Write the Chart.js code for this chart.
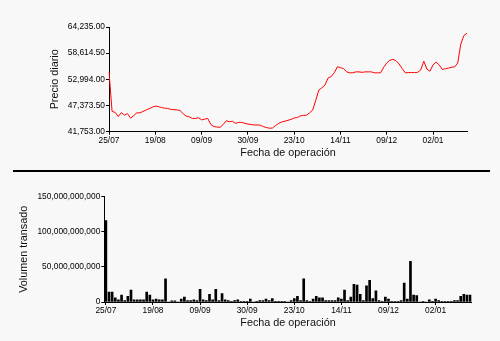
<!DOCTYPE html>
<html>
<head>
<meta charset="utf-8">
<script src="https://cdn.jsdelivr.net/npm/chart.js@4"></script>
<style>
  body { margin: 0; background: #f8f8f8; }
  #wrap { position: relative; width: 500px; height: 341px; background: #f8f8f8; }
  #priceChart { position: absolute; left: 0; top: 0; }
  #volChart { position: absolute; left: 0; top: 170px; }
  #sep { position: absolute; left: 13px; top: 170px; width: 477px; height: 2px; background: #000; }
</style>
</head>
<body>
<div id="wrap">
  <canvas id="priceChart" width="500" height="170"></canvas>
  <div id="sep"></div>
  <canvas id="volChart" width="500" height="171"></canvas>
</div>
<script>
// tick labels shown every 15 trading days
const dateTicks = ['25/07', '19/08', '09/09', '30/09', '23/10', '14/11', '09/12', '02/01'];
const tickEvery = 15;

const priceTicks = [41753, 47373.5, 52994, 58614.5, 64235];
const volumeTicks = [0, 50000000000, 100000000000, 150000000000];

// daily price
const prices = [
  54600, 46100, 45900, 45000, 45850, 45300, 45650, 44650, 45200, 45800,
  45800, 46100, 46400, 46700, 47000, 47250, 47150, 46950, 46800, 46750,
  46550, 46500, 46450, 46300, 45650, 45100, 44950, 44600, 44600, 44750,
  44300, 44450, 44600, 43300, 42850, 42750, 42700, 43300, 44100, 43900,
  44000, 43550, 43750, 43750, 43550, 43400, 43300, 43200, 43200, 43150,
  42850, 42650, 42500, 42550, 43100, 43550, 43850, 44000, 44200, 44400,
  44700, 44800, 45150, 45250, 45300, 45800, 46400, 48500, 50700, 51200,
  51800, 53300, 53600, 54400, 55700, 55500, 55300, 54600, 54400, 54400,
  54600, 54600, 54500, 54600, 54600, 54600, 54400, 54400, 54400, 55600,
  56500, 57100, 57300, 57000, 56300, 55300, 54400, 54450, 54450, 54450,
  54500, 55000, 56900, 55200, 54750, 56100, 56700, 56100, 55100, 55300,
  55400, 55600, 55650, 56500, 60600, 62400, 62900
];

// traded volume, in billions
const volumesB = [
  116, 14, 14, 6, 3, 10, 2, 8, 17, 3,
  3, 3, 3, 14, 10, 3, 4, 3, 3, 33,
  0, 1.5, 1.5, 0, 4, 7, 2, 2, 3, 2,
  18, 3, 2, 11, 3, 18, 2, 12, 3, 2,
  1, 2, 3, 1, 1, 1, 4, 0, 1, 2,
  2, 4, 2, 5, 1, 1, 1, 1, 0, 2,
  5, 8, 2, 33, 2, 1, 4, 8, 6, 6,
  2, 2, 2, 2, 6, 4, 17, 2, 7, 25,
  24, 11, 2, 23, 31, 5, 16, 2, 1, 7,
  4, 1, 1, 1, 2, 27, 4, 58, 10, 9,
  0, 1, 0, 3, 1, 4, 2, 1, 1, 1,
  1, 2, 2, 8, 11, 10, 10
];

const labels = prices.map((_, i) => i);
const fmt2 = v => v.toLocaleString('en-US', {minimumFractionDigits: 2, maximumFractionDigits: 2});
const fmt0 = v => v.toLocaleString('en-US');

const tickFont = {family: 'Liberation Sans, Arial, sans-serif', size: 8.4};
const titleFont = {family: 'Liberation Sans, Arial, sans-serif', size: 10.8};

function xAxis(height, titlePad, offset) {
  return {
    offset: offset,
    border: {display: true, color: '#000', width: 1},
    grid: {drawOnChartArea: false, drawTicks: true, tickLength: 3, color: '#000', offset: false},
    ticks: {
      autoSkip: false, maxRotation: 0, padding: 1, color: '#000', font: tickFont,
      callback: (v, i) => i % tickEvery === 0 ? dateTicks[i / tickEvery] : null
    },
    title: {display: true, text: 'Fecha de operación', color: '#111', font: titleFont,
            padding: {top: 0, bottom: titlePad}},
    afterFit: s => { s.height = height; }
  };
}

function yAxis(width, titlePad, text, tickVals, fmt) {
  return {
    min: tickVals[0],
    max: tickVals[tickVals.length - 1],
    border: {display: true, color: '#000', width: 1},
    grid: {drawOnChartArea: false, drawTicks: true, tickLength: 3, color: '#000'},
    ticks: {padding: 1, color: '#000', font: tickFont, callback: v => fmt(v)},
    afterBuildTicks: s => { s.ticks = tickVals.map(v => ({value: v})); },
    title: {display: true, text: text, color: '#111', font: titleFont,
            padding: {top: titlePad, bottom: 0}},
    afterFit: s => { s.width = width; }
  };
}

new Chart(document.getElementById('priceChart'), {
  type: 'line',
  data: {
    labels: labels,
    datasets: [{
      data: prices,
      borderColor: '#ff0000',
      borderWidth: 1,
      pointRadius: 0,
      tension: 0,
      fill: false
    }]
  },
  options: {
    responsive: false,
    animation: false,
    layout: {padding: {left: 0, right: 33, top: 27, bottom: 0}},
    plugins: {legend: {display: false}, tooltip: {enabled: false}},
    scales: {
      x: xAxis(38.3, 10.4, false),
      y: yAxis(109, 48.4, 'Precio diario', priceTicks, fmt2)
    }
  }
});

new Chart(document.getElementById('volChart'), {
  type: 'bar',
  data: {
    labels: labels,
    datasets: [{
      data: volumesB.map(v => v * 1e9),
      backgroundColor: '#000',
      barThickness: 2
    }]
  },
  options: {
    responsive: false,
    animation: false,
    layout: {padding: {left: 0, right: 28.3, top: 26.7, bottom: 0}},
    plugins: {legend: {display: false}, tooltip: {enabled: false}},
    scales: {
      x: xAxis(39, 11.4, true),
      y: yAxis(104.3, 17.4, 'Volumen transado', volumeTicks, fmt0)
    }
  }
});
</script>
</body>
</html>
